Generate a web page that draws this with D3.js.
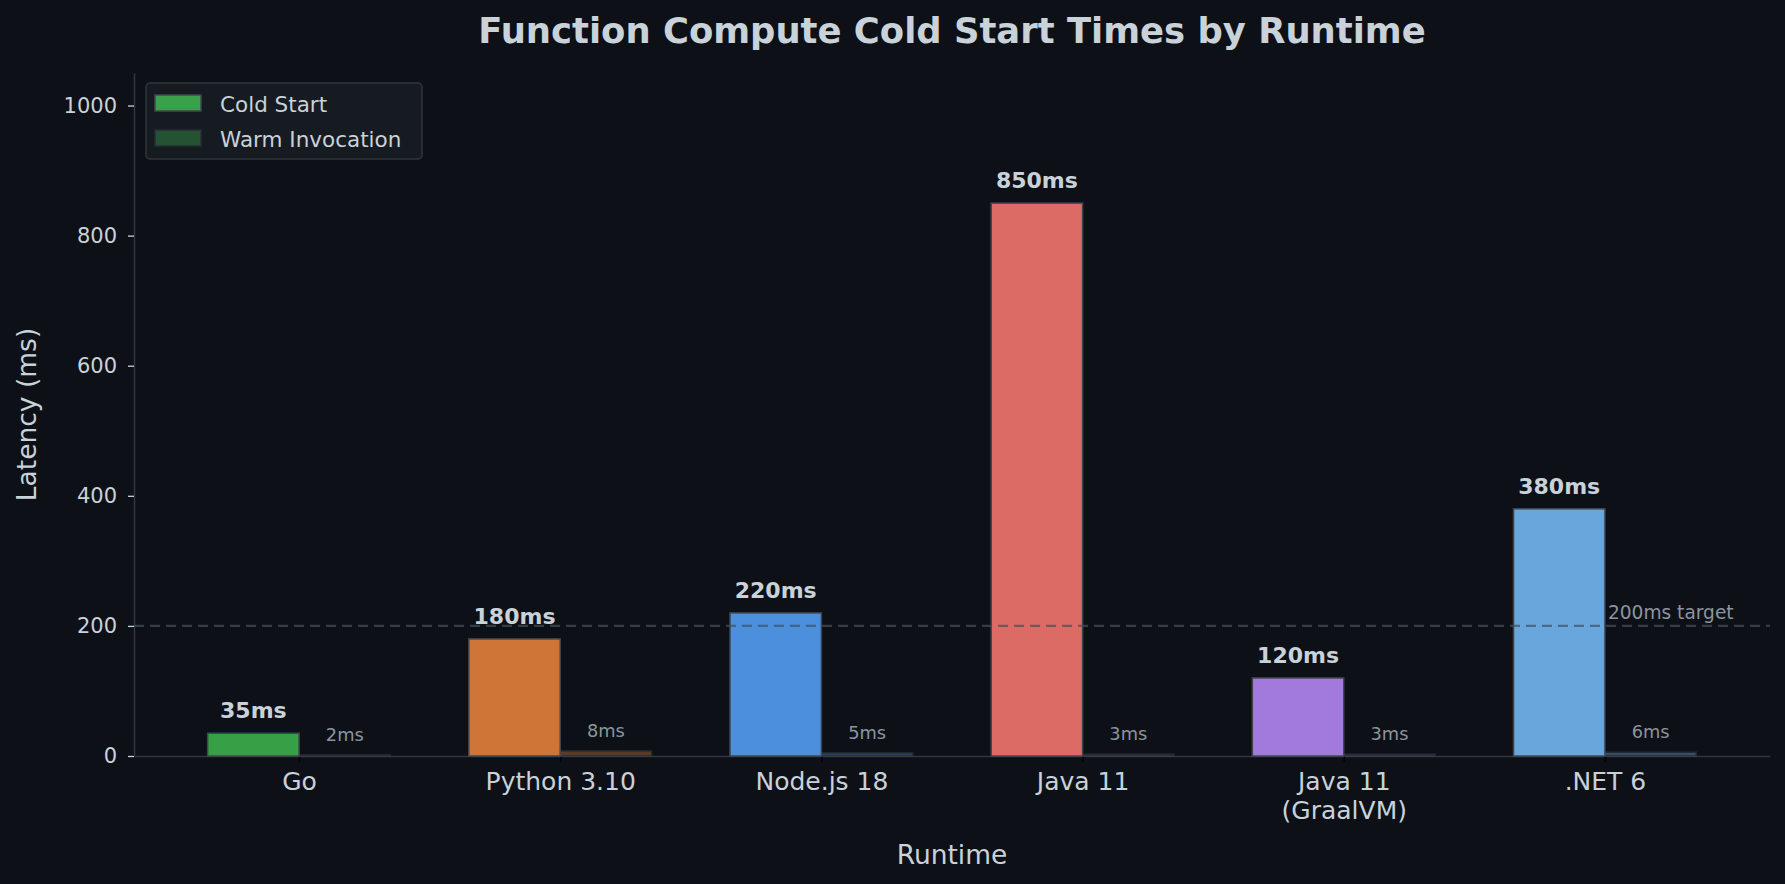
<!DOCTYPE html>
<html>
<head>
<meta charset="utf-8">
<script src="https://cdn.jsdelivr.net/npm/d3@7"></script>
<style>
  html, body { margin: 0; padding: 0; background: #0d1117; }
  svg { display: block; font-family: "DejaVu Sans", sans-serif; }
</style>
</head>
<body>
<svg id="chart" width="1785" height="884"></svg>
<script>
// data
const runtimes = ["Go", "Python 3.10", "Node.js 18", "Java 11", "Java 11\n(GraalVM)", ".NET 6"];
const coldStart = [35, 180, 220, 850, 120, 380];
const warmInvocation = [2, 8, 5, 3, 3, 6];
const runtimeColors = ["#3fb950", "#f0883e", "#58a6ff", "#ff7b72", "#bc8cff", "#79c0ff"];
const yTicks = [0, 200, 400, 600, 800, 1000];
const targetMs = 200;
const seriesNames = ["Cold Start", "Warm Invocation"];

const width = 1785, height = 884;
const margin = {top: 73, right: 15, bottom: 128, left: 134};
const barWidth = 0.35;

const bg = "#0d1117";
const textColor = "#c9d1d9";
const mutedText = "#8b949e";
const spineColor = "#30363d";

const svg = d3.select('#chart');

svg.append('rect')
    .attr('width', width)
    .attr('height', height)
    .attr('fill', bg);

const xScale = d3.scaleLinear()
    .domain([-0.632, runtimes.length - 1 + 0.632])
    .range([margin.left, width - margin.right]);
const yScale = d3.scaleLinear()
    .domain([0, 1050])
    .range([height - margin.bottom, margin.top]);

const bw = xScale(barWidth) - xScale(0);

// y axis
const yAxis = d3.axisLeft(yScale)
    .tickValues(yTicks)
    .tickFormat(d3.format('d'))
    .tickSize(6)
    .tickSizeOuter(0)
    .tickPadding(11);

const gy = svg.append('g')
    .attr('transform', `translate(${margin.left},0)`)
    .call(yAxis);
gy.select('.domain').attr('stroke', spineColor).attr('stroke-width', 1.5);
gy.selectAll('.tick line').attr('stroke', textColor).attr('stroke-width', 1.3);
gy.selectAll('.tick text')
    .attr('fill', textColor)
    .style('font-size', '21px')
    .style('font-family', '"DejaVu Sans", sans-serif');

// x axis with category names
const xAxis = d3.axisBottom(xScale)
    .tickValues(d3.range(runtimes.length))
    .tickFormat(i => runtimes[i])
    .tickSize(6)
    .tickSizeOuter(0);

const gx = svg.append('g')
    .attr('transform', `translate(0,${height - margin.bottom})`)
    .call(xAxis);
gx.select('.domain').attr('stroke', spineColor).attr('stroke-width', 1.5);
gx.selectAll('.tick line').attr('stroke', '#010409').attr('stroke-width', 1.5);
gx.selectAll('.tick text')
    .attr('fill', textColor)
    .attr('y', 34)
    .attr('dy', null)
    .style('font-size', '25px')
    .style('font-family', '"DejaVu Sans", sans-serif')
    .each(function(i) {
      const t = d3.select(this);
      const lines = runtimes[i].split('\n');
      t.text(null);
      lines.forEach((line, k) => {
        t.append('tspan')
            .attr('x', 0)
            .attr('dy', k === 0 ? 0 : 29)
            .text(line);
      });
    });

// bars
const plot = svg.append('g');

plot.selectAll('rect.cold')
    .data(coldStart)
    .enter()
    .append('rect')
    .attr('class', 'cold')
    .attr('x', (d, i) => xScale(i - barWidth))
    .attr('y', d => yScale(d))
    .attr('width', bw)
    .attr('height', d => yScale(0) - yScale(d))
    .attr('fill', (d, i) => runtimeColors[i])
    .attr('stroke', '#484f58')
    .attr('stroke-width', 1.5)
    .attr('opacity', 0.85);

plot.selectAll('rect.warm')
    .data(warmInvocation)
    .enter()
    .append('rect')
    .attr('class', 'warm')
    .attr('x', (d, i) => xScale(i))
    .attr('y', d => yScale(d))
    .attr('width', bw)
    .attr('height', d => yScale(0) - yScale(d))
    .attr('fill', (d, i) => runtimeColors[i])
    .attr('stroke', '#484f58')
    .attr('stroke-width', 1.5)
    .attr('opacity', 0.35);

// value labels
plot.selectAll('text.coldLabel')
    .data(coldStart)
    .enter()
    .append('text')
    .attr('class', 'coldLabel')
    .attr('x', (d, i) => xScale(i - barWidth / 2))
    .attr('y', d => yScale(d + 15))
    .attr('dy', '-0.24em')
    .attr('text-anchor', 'middle')
    .attr('fill', textColor)
    .style('font-size', '22px')
    .style('font-weight', 'bold')
    .text(d => d + 'ms');

plot.selectAll('text.warmLabel')
    .data(warmInvocation)
    .enter()
    .append('text')
    .attr('class', 'warmLabel')
    .attr('x', (d, i) => xScale(i + barWidth / 2))
    .attr('y', d => yScale(d + 15))
    .attr('dy', '-0.24em')
    .attr('text-anchor', 'middle')
    .attr('fill', mutedText)
    .style('font-size', '17.8px')
    .text(d => d + 'ms');

// target line, drawn over the bars
svg.append('line')
    .attr('x1', xScale.range()[0])
    .attr('x2', xScale.range()[1])
    .attr('y1', yScale(targetMs))
    .attr('y2', yScale(targetMs))
    .attr('stroke', '#484f58')
    .attr('stroke-opacity', 0.7)
    .attr('stroke-width', 2.3)
    .attr('stroke-dasharray', '10,6');

svg.append('text')
    .attr('x', xScale(runtimes.length - 1) + 3)
    .attr('y', yScale(targetMs + 10))
    .attr('fill', mutedText)
    .style('font-size', '18.6px')
    .text(targetMs + 'ms target');

// legend
const legend = svg.append('g').attr('transform', 'translate(146,83)');
legend.append('rect')
    .attr('width', 276)
    .attr('height', 76)
    .attr('rx', 4)
    .attr('fill', '#161b22')
    .attr('stroke', spineColor)
    .attr('stroke-width', 1.5);

seriesNames.forEach((name, k) => {
  legend.append('rect')
      .attr('x', 9)
      .attr('y', 12 + k * 35)
      .attr('width', 46)
      .attr('height', 16)
      .attr('fill', runtimeColors[0])
      .attr('stroke', '#484f58')
      .attr('stroke-width', 1.5)
      .attr('opacity', k === 0 ? 0.85 : 0.35);
  legend.append('text')
      .attr('x', 74)
      .attr('y', 21 + k * 35)
      .attr('dy', '0.36em')
      .attr('fill', textColor)
      .style('font-size', '21.5px')
      .text(name);
});

// titles
svg.append('text')
    .attr('x', (margin.left + width - margin.right) / 2)
    .attr('y', 43)
    .attr('text-anchor', 'middle')
    .attr('fill', textColor)
    .style('font-size', '35.4px')
    .style('font-weight', 'bold')
    .text('Function Compute Cold Start Times by Runtime');

svg.append('text')
    .attr('x', (margin.left + width - margin.right) / 2)
    .attr('y', 864)
    .attr('text-anchor', 'middle')
    .attr('fill', textColor)
    .style('font-size', '26.5px')
    .text('Runtime');

svg.append('text')
    .attr('transform', `translate(36,${(margin.top + height - margin.bottom) / 2}) rotate(-90)`)
    .attr('text-anchor', 'middle')
    .attr('fill', textColor)
    .style('font-size', '26.5px')
    .text('Latency (ms)');
</script>
</body>
</html>
